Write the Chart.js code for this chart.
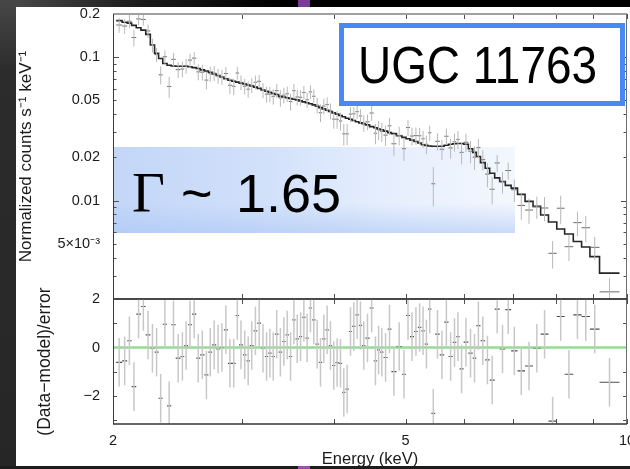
<!DOCTYPE html>
<html>
<head>
<meta charset="utf-8">
<title>UGC 11763 – 2–10 keV spectrum</title>
<script src="https://cdn.jsdelivr.net/npm/chart.js@4.4.1/dist/chart.umd.min.js"></script>
<style>
  html, body { margin: 0; padding: 0; width: 630px; height: 469px; overflow: hidden; background: #000; }
  .abs { position: absolute; }
  #topStrip { left: 0; top: 0; width: 630px; height: 7px; background: linear-gradient(90deg, #4d4d4d 0%, #1c1c1c 22%, #000 45%); }
  #leftStrip { left: 0; top: 0; width: 16px; height: 469px; background: linear-gradient(180deg, #474747 0%, #2c2c2c 15%, #262626 100%); }
  #bottomStrip { left: 0; top: 466px; width: 630px; height: 3px; background: #1c1c1c; }
  #topNotch { left: 298px; top: 0; width: 12px; height: 7px; background: #7a3c98; }
  #bottomNotch { left: 298px; top: 466px; width: 12px; height: 3px; background: #a04cb4; }
  #sheet { left: 16px; top: 7px; width: 614px; height: 459px; background: #fff; }
  #gammaBox {
    left: 113px; top: 147px; width: 402px; height: 86px;
    background:
      linear-gradient(180deg, rgba(255,255,255,0) 0%, rgba(255,255,255,0) 65%, rgba(168,196,244,0.55) 100%),
      linear-gradient(90deg, #c3d6f8 0%, #d0e0fa 35%, #e7effd 70%, #f3f7fe 100%);
  }
  canvas { position: absolute; left: 0; top: 0; }
  #ugcBox { left: 339px; top: 23px; width: 286px; height: 83px; box-sizing: border-box; border: 5.5px solid #4a88f5; background: #fff; }
  #ugcText { left: 358px; top: 40px; font: 51px/51px 'Liberation Sans', Arial, sans-serif; color: #000; transform: scaleX(0.9); transform-origin: 0 0; white-space: nowrap; }
  #gammaSym { left: 132px; top: 164px; font: 57px/57px 'Liberation Serif', 'Times New Roman', serif; color: #000; }
  #tilde { left: 181px; top: 166px; font: 54px/54px 'Liberation Sans', Arial, sans-serif; color: #000; }
  #gammaVal { left: 236px; top: 166px; font: 54px/54px 'Liberation Sans', Arial, sans-serif; color: #000; white-space: nowrap; }
</style>
</head>
<body>
<div class="abs" id="topStrip"></div>
<div class="abs" id="leftStrip"></div>
<div class="abs" id="bottomStrip"></div>
<div class="abs" id="topNotch"></div>
<div class="abs" id="bottomNotch"></div>
<div class="abs" id="sheet"></div>
<div class="abs" id="gammaBox"></div>
<canvas id="specCanvas" width="650" height="320"></canvas>
<canvas id="residCanvas" width="650" height="469"></canvas>
<div class="abs" id="ugcBox"></div>
<div class="abs" id="ugcText">UGC 11763</div>
<div class="abs" id="gammaSym">Γ</div>
<div class="abs" id="tilde">~</div>
<div class="abs" id="gammaVal">1.65</div>
<script>
// Channel grouping: energy bin edges (keV)
const binEdges = [
  2.020, 2.058, 2.091, 2.120, 2.151, 2.183, 2.216, 2.248, 2.278, 2.307,
  2.337, 2.369, 2.400, 2.434, 2.471, 2.500, 2.529, 2.562, 2.596, 2.628,
  2.663, 2.696, 2.728, 2.763, 2.796, 2.830, 2.866, 2.902, 2.936, 2.968,
  3.004, 3.038, 3.070, 3.106, 3.142, 3.180, 3.218, 3.252, 3.286, 3.320,
  3.359, 3.397, 3.433, 3.469, 3.506, 3.542, 3.580, 3.617, 3.654, 3.692,
  3.731, 3.770, 3.810, 3.850, 3.890, 3.931, 3.972, 4.013, 4.056, 4.099,
  4.141, 4.185, 4.229, 4.273, 4.318, 4.363, 4.408, 4.466, 4.525, 4.573,
  4.616, 4.665, 4.726, 4.782, 4.858, 4.942, 5.006, 5.069, 5.133, 5.195,
  5.253, 5.308, 5.364, 5.420, 5.485, 5.563, 5.642, 5.719, 5.794, 5.860,
  5.920, 5.995, 6.085, 6.168, 6.239, 6.320, 6.414, 6.505, 6.608, 6.712,
  6.832, 6.958, 7.098, 7.267, 7.451, 7.631, 7.820, 8.026, 8.226, 8.452,
  8.675, 8.904, 9.176, 9.768
];

// Folded power-law model per bin (counts s^-1 keV^-1)
const modelRate = [
  0.1797, 0.1754, 0.1727, 0.1666, 0.1605, 0.1545, 0.1441, 0.1217, 0.1063, 0.0979,
  0.0903, 0.0878, 0.0868, 0.0865, 0.0865, 0.0864, 0.0857, 0.0845, 0.0834, 0.0815,
  0.0800, 0.0785, 0.0764, 0.0745, 0.0728, 0.0708, 0.0691, 0.0680, 0.0670, 0.0659,
  0.0650, 0.0640, 0.0631, 0.0618, 0.0606, 0.0591, 0.0578, 0.0568, 0.0558, 0.0549,
  0.0533, 0.0527, 0.0521, 0.0515, 0.0509, 0.0504, 0.0496, 0.0488, 0.0481, 0.0473,
  0.0465, 0.0455, 0.0445, 0.0436, 0.0427, 0.0418, 0.0409, 0.0401, 0.0392, 0.0384,
  0.0375, 0.0369, 0.0362, 0.0355, 0.0348, 0.0343, 0.0337, 0.0328, 0.0322, 0.0316,
  0.0312, 0.0305, 0.0298, 0.0293, 0.0283, 0.0276, 0.0270, 0.0264, 0.0258, 0.0252,
  0.0245, 0.0242, 0.0240, 0.0239, 0.0239, 0.0239, 0.0243, 0.0247, 0.0249, 0.0250,
  0.0250, 0.0247, 0.0230, 0.0217, 0.0203, 0.0184, 0.0168, 0.0155, 0.0144, 0.01358,
  0.01277, 0.01221, 0.01105, 0.00987, 0.00911, 0.00794, 0.00710, 0.00634, 0.00585, 0.00518,
  0.00475, 0.00407, 0.00312
];

// Observed count rate per bin (counts s^-1 keV^-1)
const rate = [
  0.1676, 0.1648, 0.1780, 0.1371, 0.1849, 0.1832, 0.1524, 0.1213, 0.1041, 0.0753,
  0.1007, 0.0625, 0.0966, 0.0819, 0.0827, 0.0872, 0.0954, 0.0985, 0.0790, 0.0786,
  0.0692, 0.0767, 0.0774, 0.0740, 0.0728, 0.0770, 0.0637, 0.0627, 0.0776, 0.0668,
  0.0627, 0.0598, 0.0637, 0.0669, 0.0679, 0.0589, 0.0552, 0.0552, 0.0533, 0.0585,
  0.0520, 0.0544, 0.0556, 0.0490, 0.0584, 0.0528, 0.0525, 0.0567, 0.0505, 0.0573,
  0.0534, 0.0463, 0.0410, 0.0456, 0.0468, 0.0422, 0.0370, 0.0369, 0.0359, 0.0292,
  0.0292, 0.0401, 0.0403, 0.0417, 0.0389, 0.0347, 0.0354, 0.0408, 0.0295, 0.0311,
  0.0303, 0.0286, 0.0332, 0.0249, 0.0285, 0.0230, 0.0323, 0.0282, 0.0284, 0.0283,
  0.0270, 0.0247, 0.0297, 0.0131, 0.0259, 0.0228, 0.0281, 0.0233, 0.0257, 0.0267,
  0.0217, 0.0255, 0.0221, 0.0201, 0.0234, 0.0193, 0.0153, 0.0120, 0.0183, 0.0135,
  0.0162, 0.0119, 0.00925, 0.00859, 0.00906, 0.00888, 0.00429, 0.00885, 0.00477, 0.00702,
  0.00647, 0.00472, 0.00231
];

// 1-sigma uncertainty of each rate
const rateErr = [
  0.0198, 0.0193, 0.0190, 0.0183, 0.0177, 0.0170, 0.0159, 0.0134, 0.0117, 0.0108,
  0.0108, 0.0105, 0.0104, 0.0104, 0.0104, 0.0104, 0.0103, 0.0101, 0.0100, 0.0098,
  0.0096, 0.0094, 0.0092, 0.0089, 0.0087, 0.0085, 0.0083, 0.0082, 0.0080, 0.0079,
  0.0078, 0.0077, 0.0076, 0.0074, 0.0073, 0.0071, 0.0069, 0.0068, 0.0067, 0.0066,
  0.0069, 0.0069, 0.0068, 0.0067, 0.0066, 0.0066, 0.0065, 0.0063, 0.0063, 0.0062,
  0.0061, 0.0059, 0.0058, 0.0057, 0.0056, 0.0054, 0.0053, 0.0052, 0.0051, 0.0050,
  0.0049, 0.0048, 0.0047, 0.0046, 0.0045, 0.0045, 0.0044, 0.0049, 0.0048, 0.0047,
  0.0047, 0.0046, 0.0045, 0.0044, 0.0043, 0.0041, 0.0041, 0.0040, 0.0039, 0.0038,
  0.0037, 0.0036, 0.0036, 0.0040, 0.0036, 0.0036, 0.0037, 0.0037, 0.0037, 0.0038,
  0.0038, 0.0037, 0.0039, 0.0037, 0.0035, 0.0031, 0.0029, 0.0026, 0.0025, 0.0023,
  0.0022, 0.0021, 0.0019, 0.0017, 0.0016, 0.0017, 0.00093, 0.00196, 0.00098, 0.00136,
  0.00134, 0.00086, 0.00057
];

// (data - model) / error per bin
const resid = [
  -0.61, -0.55, 0.28, -1.61, 1.38, 1.69, 0.52, -0.03, -0.19, -2.09,
  0.96, -2.40, 0.94, -0.44, -0.37, 0.08, 0.94, 1.38, -0.44, -0.30,
  -1.13, -0.19, 0.11, -0.06, 0.00, 0.73, -0.65, -0.65, 1.32, 0.11,
  -0.30, -0.55, 0.08, 0.69, 1.01, -0.03, -0.37, -0.23, -0.37, 0.55,
  -0.19, 0.25, 0.52, -0.37, 1.14, 0.36, 0.45, 1.24, 0.39, 1.63,
  1.14, 0.14, -0.61, 0.36, 0.73, 0.08, -0.74, -0.62, -0.65, -1.85,
  -1.71, 0.66, 0.87, 1.35, 0.91, 0.08, 0.39, 1.63, -0.55, -0.10,
  -0.19, -0.41, 0.76, -0.99, 0.04, -1.10, 1.32, 0.45, 0.66, 0.83,
  0.69, 0.14, 1.58, -2.71, 0.55, -0.30, 1.05, -0.37, 0.21, 0.45,
  -0.88, 0.22, -0.23, -0.44, 0.90, 0.28, -0.51, -1.34, 1.58, -0.06,
  1.56, -0.14, -0.96, -0.76, -0.03, 0.55, -3.03, 1.28, -1.10, 1.35,
  1.28, 0.76, -1.43
];

// Axis ticks
const energyMajor = [2, 5, 10];
const energyMinor = [3, 4, 6, 7, 8, 9];
const rateTicks = [0.005, 0.01, 0.02, 0.05, 0.1, 0.2];
const rateTickLabels = ['5×10⁻³', '0.01', '0.02', '0.05', '0.1', '0.2'];
const rateMajor = [0.01, 0.1];
const rateMinor = [0.003, 0.004, 0.005, 0.006, 0.007, 0.008, 0.009,
                   0.02, 0.03, 0.04, 0.05, 0.06, 0.07, 0.08, 0.09];
const residTicks = [-2, 0, 2];
const residTickLabels = ['−2', '0', '2'];
const residMinor = [-3, -2, -1, 1];

const FONT = "'Liberation Sans', Arial, Helvetica, sans-serif";
const INK = '#1a1a1a';

function binCentre(i) { return Math.sqrt(binEdges[i] * binEdges[i + 1]); }

// model histogram outline: flat across each bin, jumping at the edges
const modelPts = [];
modelRate.forEach((m, i) => {
  modelPts.push({ x: binEdges[i], y: m }, { x: binEdges[i + 1], y: m });
});

// error crosses as broken polylines (null y breaks the line)
function crossBars(values, errOf) {
  const v = [], h = [];
  values.forEach((val, i) => {
    const c = binCentre(i), e = errOf(i);
    v.push({ x: c, y: val - e }, { x: c, y: val + e }, { x: c, y: null });
    h.push({ x: binEdges[i], y: val }, { x: binEdges[i + 1], y: val }, { x: binEdges[i + 1], y: null });
  });
  return { v, h };
}
const specBars = crossBars(rate, i => rateErr[i]);
const residBars = crossBars(resid, () => 1);   // residuals are in units of sigma

// inward tick marks and panel outline, placed through the chart's own scales
const frameTicks = {
  id: 'frameTicks',
  afterDatasetsDraw(chart, _args, o) {
    const { ctx, chartArea: a } = chart;
    const xs = chart.scales.x, ys = chart.scales.y;
    const seg = (x1, y1, x2, y2) => { ctx.beginPath(); ctx.moveTo(x1, y1); ctx.lineTo(x2, y2); ctx.stroke(); };
    const snap = p => Math.round(p) + 0.5;
    ctx.save();
    ctx.lineWidth = 1;
    ctx.strokeStyle = '#505050';
    o.xTicks.forEach(([vals, len]) => vals.forEach(v => {
      const px = snap(xs.getPixelForValue(v));
      seg(px, a.top, px, a.top + len);
      seg(px, a.bottom, px, a.bottom - len);
    }));
    o.yTicks.forEach(([vals, len]) => vals.forEach(v => {
      const py = snap(ys.getPixelForValue(v));
      seg(a.left, py, a.left + len, py);
      seg(a.right, py, a.right - len, py);
    }));
    o.edges.forEach(([side, color, width]) => {
      ctx.strokeStyle = color;
      ctx.lineWidth = width;
      if (side === 'top') seg(a.left, a.top, a.right, a.top);
      if (side === 'bottom') seg(a.left, a.bottom, a.right, a.bottom);
      if (side === 'left') seg(a.left + 0.5, a.top, a.left + 0.5, a.bottom);
      if (side === 'right') seg(a.right - 0.5, a.top, a.right - 0.5, a.bottom);
    });
    ctx.restore();
  }
};

const lineStyle = { pointRadius: 0, pointHoverRadius: 0, fill: false, tension: 0, spanGaps: false, borderCapStyle: 'butt' };
const quiet = { legend: { display: false }, tooltip: { enabled: false } };
// labels sit 13px left of the axis; the offset is carried by the (undrawn) tick length
const hiddenGrid = { display: false, drawTicks: true, tickLength: 13 };

// upper panel: count-rate spectrum with folded model
new Chart(document.getElementById('specCanvas'), {
  type: 'line',
  data: {
    datasets: [
      { ...lineStyle, data: specBars.v, borderColor: '#b8b8b8', borderWidth: 1 },
      { ...lineStyle, data: specBars.h, borderColor: '#6a6a6a', borderWidth: 1 },
      { ...lineStyle, data: modelPts, borderColor: '#262626', borderWidth: 1.6 }
    ]
  },
  options: {
    responsive: false, animation: false, events: [],
    layout: { padding: { left: 0, top: 14, right: 23, bottom: 21 } },
    plugins: {
      ...quiet,
      frameTicks: {
        xTicks: [[energyMajor, 5], [energyMinor, 5]],
        yTicks: [[rateMajor, 6], [rateMinor, 3.5]],
        edges: [['top', '#a0a0a0', 2], ['left', '#3c3c3c', 1], ['right', '#6e6e6e', 1], ['bottom', '#3c3c3c', 1.5]]
      }
    },
    scales: {
      x: { type: 'logarithmic', min: 2, max: 10, display: false },
      y: {
        type: 'logarithmic', min: 0.00206, max: 0.2,
        afterFit: s => { s.width = 113; },
        afterBuildTicks: s => { s.ticks = rateTicks.map(v => ({ value: v })); },
        grid: hiddenGrid,
        border: { display: false },
        ticks: { callback: (v, i) => rateTickLabels[i], padding: 0, color: INK, autoSkip: false,
                 font: { family: FONT, size: 14.5 } },
        title: { display: true, text: 'Normalized counts s⁻¹ keV⁻¹', color: INK,
                 font: { family: FONT, size: 17 }, padding: { top: 15.8, bottom: 0 } }
      }
    }
  },
  plugins: [frameTicks]
});

// lower panel: residuals in units of sigma
new Chart(document.getElementById('residCanvas'), {
  type: 'line',
  data: {
    datasets: [
      { ...lineStyle, data: residBars.v, borderColor: '#c8c8c8', borderWidth: 1.5 },
      { ...lineStyle, data: [{ x: 2, y: 0 }, { x: 10, y: 0 }], borderColor: 'rgba(120,212,120,0.8)', borderWidth: 2.5 },
      { ...lineStyle, data: residBars.h, borderColor: '#4e4e4e', borderWidth: 1.2 }
    ]
  },
  options: {
    responsive: false, animation: false, events: [],
    layout: { padding: { left: 0, top: 299, right: 23, bottom: 0 } },
    plugins: {
      ...quiet,
      frameTicks: {
        xTicks: [[energyMajor, 5], [energyMinor, 5]],
        yTicks: [[residMinor, 4]],
        edges: [['left', '#3c3c3c', 1], ['right', '#6e6e6e', 1], ['bottom', '#333333', 1.5], ['top', '#3c3c3c', 1.5]]
      }
    },
    scales: {
      x: {
        type: 'logarithmic', min: 2, max: 10,
        afterFit: s => { s.height = 45; },
        afterBuildTicks: s => { s.ticks = energyMajor.map(v => ({ value: v })); },
        grid: { display: false, drawTicks: false },
        border: { display: false },
        ticks: { callback: (v, i) => String(energyMajor[i]), padding: 8, maxRotation: 0, autoSkip: false,
                 color: INK, font: { family: FONT, size: 14.5 } },
        title: { display: true, text: 'Energy (keV)', color: INK,
                 font: { family: FONT, size: 16.5 }, padding: { top: 0, bottom: 0 } }
      },
      y: {
        type: 'linear', min: -3.15, max: 2,
        afterFit: s => { s.width = 113; },
        afterBuildTicks: s => { s.ticks = residTicks.map(v => ({ value: v })); },
        grid: hiddenGrid,
        border: { display: false },
        ticks: { callback: (v, i) => residTickLabels[i], padding: 0, color: INK, autoSkip: false,
                 font: { family: FONT, size: 14.5 } },
        title: { display: true, text: '(Data−model)/error', color: INK,
                 font: { family: FONT, size: 17.5 }, padding: { top: 34.5, bottom: 0 } }
      }
    }
  },
  plugins: [frameTicks]
});
</script>
</body>
</html>
